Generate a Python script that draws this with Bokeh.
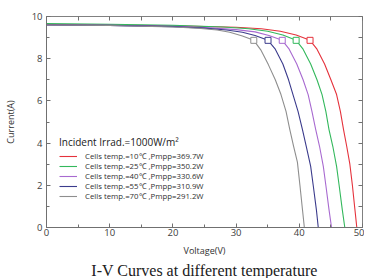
from bokeh.plotting import figure
from bokeh.models import (Range1d, LinearAxis, FixedTicker, CustomJSTickFormatter,
                          Legend, LegendItem, Title)
from bokeh.embed import file_html
from bokeh.resources import INLINE

# ---- data ----
labels = ["Cells temp.=10\u2103 ,Pmpp=369.7W",
          "Cells temp.=25\u2103 ,Pmpp=350.2W",
          "Cells temp.=40\u2103 ,Pmpp=330.6W",
          "Cells temp.=55\u2103 ,Pmpp=310.9W",
          "Cells temp.=70\u2103 ,Pmpp=291.2W"]
colors = ["#e5323c", "#33b85c", "#a86ad0", "#3b3b8c", "#8e8e8e"]

v_10 = [0, 10, 20, 30, 34, 37, 39.5, 41.7, 42.8, 44.0, 45.0, 45.9, 46.5, 47.0, 47.5, 48.0, 48.4, 48.8, 49.1]
i_10 = [9.62, 9.60, 9.56, 9.49, 9.42, 9.30, 9.12, 8.87, 8.45, 7.75, 7.00, 6.30, 5.50, 4.64, 3.85, 3.00, 2.00, 0.85, 0]
v_25 = [0, 10, 20, 28, 32, 35, 37.4, 39.5, 40.6, 41.8, 42.8, 43.6, 44.2, 44.7, 45.3, 45.9, 46.3, 46.8, 47.2]
i_25 = [9.66, 9.63, 9.58, 9.50, 9.42, 9.30, 9.12, 8.87, 8.45, 7.75, 7.00, 6.30, 5.50, 4.64, 3.85, 2.90, 2.00, 0.85, 0]
v_40 = [0, 10, 20, 26, 30, 33, 35.2, 37.3, 38.4, 39.6, 40.6, 41.4, 42.0, 42.6, 43.2, 43.8, 44.2, 44.7, 45.1]
i_40 = [9.60, 9.58, 9.53, 9.46, 9.38, 9.27, 9.10, 8.87, 8.45, 7.75, 7.00, 6.30, 5.50, 4.64, 3.85, 2.90, 2.00, 0.85, 0]
v_55 = [0, 10, 20, 25, 28.5, 31, 33, 35.05, 36.2, 37.4, 38.3, 39.0, 39.8, 40.5, 41.1, 41.8, 42.2, 42.7, 43.0]
i_55 = [9.60, 9.58, 9.52, 9.45, 9.36, 9.25, 9.10, 8.87, 8.45, 7.75, 7.00, 6.30, 5.50, 4.64, 3.85, 2.90, 2.00, 0.85, 0]
v_70 = [0, 10, 20, 24, 27, 29, 31, 32.8, 33.9, 35.1, 36.2, 37.1, 37.9, 38.5, 39.1, 39.7, 40.1, 40.5, 40.8]
i_70 = [9.60, 9.57, 9.50, 9.44, 9.36, 9.25, 9.08, 8.87, 8.42, 7.72, 7.00, 6.30, 5.50, 4.64, 3.85, 3.10, 2.00, 0.85, 0]

mpp_v = [41.7, 39.5, 37.3, 35.05, 32.8]
mpp_i = [8.87, 8.87, 8.87, 8.87, 8.87]

x_ticks = [0, 10, 20, 30, 40, 50]
x_minor = [5, 15, 25, 35, 45]
y_ticks = [0, 2, 4, 6, 8, 10]
y_minor = [1, 3, 5, 7, 9]
top_ticks = [0, 5, 10, 15, 20, 25, 30, 35, 40, 45, 50]
right_ticks = [0, 1, 2, 3, 4, 5, 6, 7, 8, 9, 10]

curves_v = [v_10, v_25, v_40, v_55, v_70]
curves_i = [i_10, i_25, i_40, i_55, i_70]

FONT = "Open Sans"

p = figure(width=364, height=278, output_backend="svg", toolbar_location=None,
           x_range=Range1d(0, 50), y_range=Range1d(0, 10),
           min_border_left=37, min_border_top=16, min_border_right=2,
           min_border_bottom=30)
p.background_fill_color = "white"
p.border_fill_color = "white"
p.outline_line_color = "#808080"
p.xgrid.visible = False
p.ygrid.visible = False

def style_axis(ax, fs="9.5px"):
    ax.axis_line_color = "#707070"
    ax.major_tick_line_color = "#707070"
    ax.minor_tick_line_color = "#707070"
    ax.major_tick_in = 4
    ax.major_tick_out = 0
    ax.minor_tick_in = 3
    ax.minor_tick_out = 0
    ax.major_label_text_font = FONT
    ax.major_label_text_font_size = fs
    ax.major_label_text_color = "#404040"
    ax.axis_label_text_font = FONT
    ax.axis_label_text_font_size = "9px"
    ax.axis_label_text_font_style = "normal"
    ax.axis_label_text_color = "#303030"

xa = p.xaxis[0]
ya = p.yaxis[0]
style_axis(xa)
style_axis(ya)
xa.ticker = FixedTicker(ticks=x_ticks, minor_ticks=x_minor)
ya.ticker = FixedTicker(ticks=y_ticks, minor_ticks=y_minor)
xa.axis_label = "Voltage(V)"
ya.axis_label = "Current(A)"
xa.major_label_standoff = 1
ya.major_label_standoff = 4
xa.axis_label_standoff = 5
ya.axis_label_standoff = 12

blank = CustomJSTickFormatter(code="return ''")
top = LinearAxis(ticker=FixedTicker(ticks=top_ticks), formatter=blank)
right = LinearAxis(ticker=FixedTicker(ticks=right_ticks), formatter=blank)
for ax in (top, right):
    style_axis(ax, "1px")
    ax.axis_line_color = None
    ax.major_label_standoff = 0
    ax.minor_tick_line_color = None
p.add_layout(top, "above")
p.add_layout(right, "right")

items = []
for k in range(5):
    r = p.line(curves_v[k], curves_i[k], line_color=colors[k], line_width=1.1)
    items.append(LegendItem(label=labels[k], renderers=[r]))
for k in range(5):
    p.scatter([mpp_v[k]], [mpp_i[k]], marker="square", size=6,
              line_color=colors[k], fill_color="white", line_width=1)

leg = Legend(items=items, location=(11, 24), title="Incident Irrad.=1000W/m\u00b2")
leg.title_text_font = FONT
leg.title_text_font_size = "10px"
leg.title_text_font_style = "normal"
leg.title_text_color = "#202020"
leg.title_standoff = 2
leg.label_text_font = FONT
leg.label_text_font_size = "7.8px"
leg.label_text_color = "#303030"
leg.label_text_line_height = 1.0
leg.glyph_width = 18
leg.glyph_height = 6
leg.label_height = 6
leg.label_standoff = 8
leg.spacing = 0
leg.padding = 2
leg.margin = 0
leg.border_line_alpha = 0
leg.background_fill_alpha = 0
p.add_layout(leg, "center")

t = Title(text="I-V Curves at different temperature", align="center",
          text_font="Liberation Serif", text_font_size="16px",
          text_font_style="normal", text_color="#202020", standoff=0,
          text_line_height=0.8)
p.add_layout(t, "below")

open("out.html", "w").write(file_html(p, INLINE))
